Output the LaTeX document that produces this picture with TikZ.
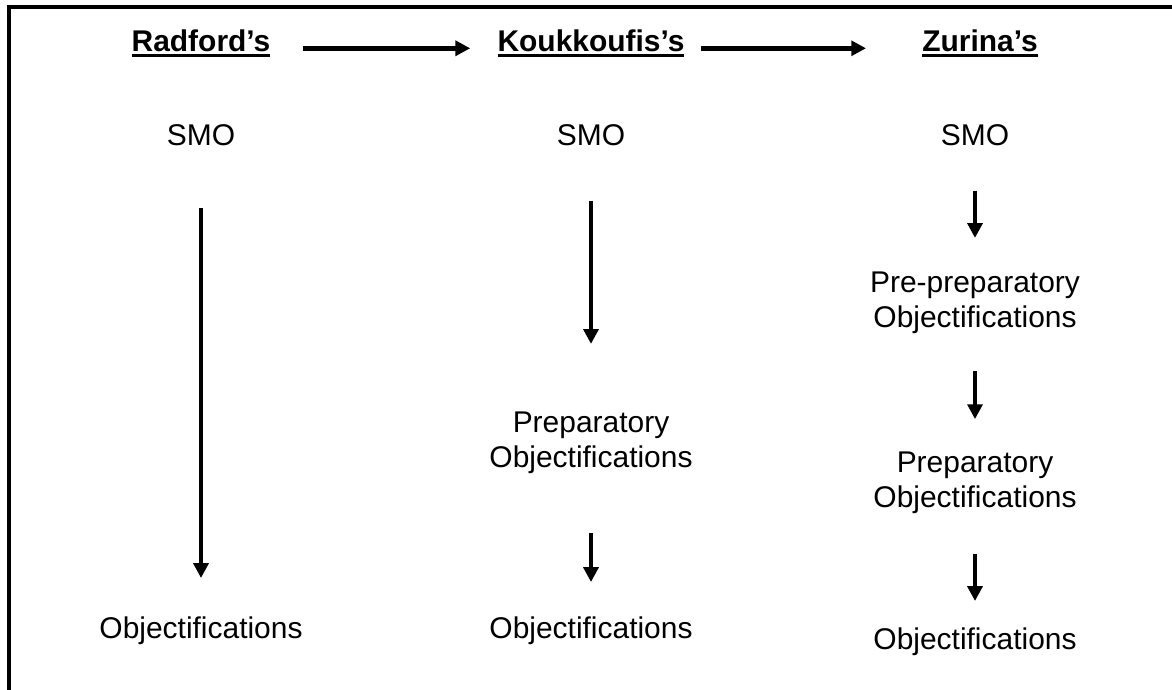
\documentclass[tikz,border=0pt]{standalone}
\usepackage{fontspec}
\setmainfont{Liberation Sans}
\usetikzlibrary{arrows.meta}
\newcommand{\ulname}[1]{\setbox0\hbox{#1}\rlap{\rule[-3.4pt]{\wd0}{2.3pt}}\box0}
\tikzset{
	lbl/.style={font=\fontsize{21.3}{24.6}\selectfont, inner sep=0pt, align=center, anchor=base},
	ttl/.style={lbl, font=\fontsize{21.3}{24.6}\selectfont\bfseries},
	flow/.style={line width=3.2pt, -{Triangle[length=10.5pt,width=10.5pt]}},
}
\begin{document}
\begin{tikzpicture}[x=0.025cm,y=-0.025cm]
		\useasboundingbox (0,0) rectangle (1172,690);
		\draw[line width=2.2pt] (9,690) -- (9,7) -- (1172,7);
		% titles
		\node[ttl] (rad) at (201,52) {\ulname{Radford’s}};
		\node[ttl] (kou) at (591,52) {\ulname{Koukkoufis’s}};
		\node[ttl] (zur) at (980,52) {\ulname{Zurina’s}};
		\draw[flow,shorten <=0.8cm,shorten >=0.675cm] (rad.mid east) -- (kou.mid west);
		\draw[flow,shorten <=0.4cm,shorten >=1.4cm] (kou.mid east) -- (zur.mid west);
		% Radford
		\node[lbl] (radsmo) at (201,146) {SMO};
		\node[lbl] (radobj) at (201,638) {Objectifications};
		\draw[flow,shorten <=1.54cm,shorten >=0.95cm] (radsmo) -- (radobj);
		% Koukkoufis (base = last line)
		\node[lbl] (kousmo) at (591,146) {SMO};
		\node[lbl] (kouprep) at (591,467) {Preparatory\\Objectifications};
		\node[lbl] (kouobj) at (591,638) {Objectifications};
		\draw[flow,shorten <=1.35cm,shorten >=1.69cm] (kousmo) -- (kouprep);
		\draw[flow,shorten <=1.49cm,shorten >=0.85cm] (kouprep) -- (kouobj);
		% Zurina
		\node[lbl] (zursmo) at (975,146) {SMO};
		\node[lbl] (zurpre) at (975,327) {Pre-preparatory\\Objectifications};
		\node[lbl] (zurprep) at (975,507) {Preparatory\\Objectifications};
		\node[lbl] (zurobj) at (975,649) {Objectifications};
		\draw[flow,shorten <=1.1cm,shorten >=0.84cm] (zursmo) -- (zurpre);
		\draw[flow,shorten <=0.94cm,shorten >=0.81cm] (zurpre) -- (zurprep);
		\draw[flow,shorten <=1.0cm,shorten >=0.65cm] (zurprep) -- (zurobj);
\end{tikzpicture}
\end{document}
